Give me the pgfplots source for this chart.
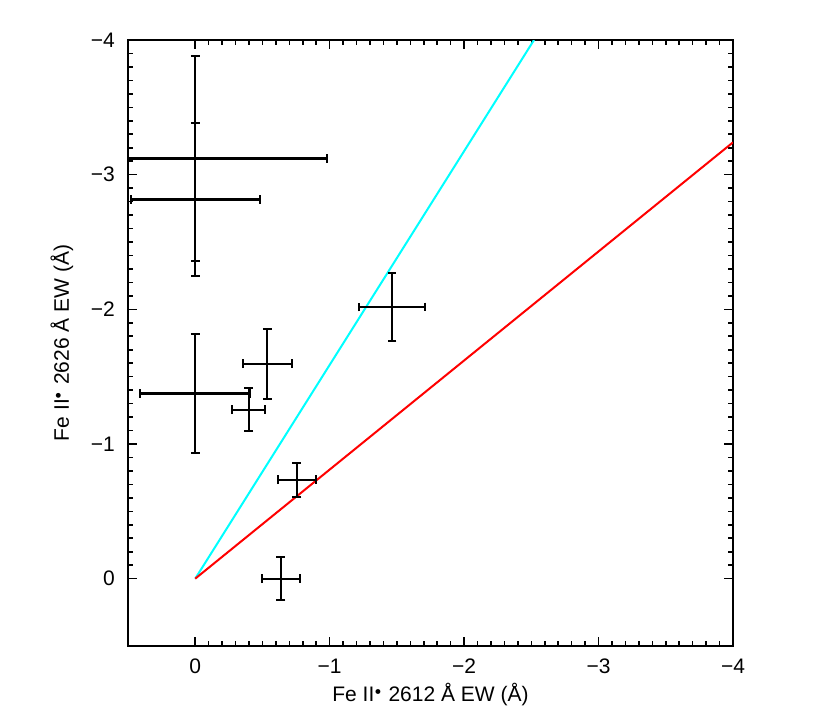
\documentclass[border=0pt]{standalone}
\usepackage{pgfplots}
\pgfplotsset{compat=1.18}
\usepackage{fontspec}
\setmainfont{Liberation Sans}
\definecolor{idlcyan}{RGB}{0,255,255}
\definecolor{idlred}{RGB}{255,0,0}
\begin{document}
\begin{tikzpicture}
\path[use as bounding box] (0,0) rectangle (415pt,363.5pt);
\begin{axis}[
  at={(64pt,40.5pt)}, anchor=south west,
  scale only axis, width=302.5pt, height=303pt,
  x dir=reverse, y dir=reverse,
  xmin=-4, xmax=0.5, ymin=-4, ymax=0.5,
  xtick={0,-1,-2,-3,-4}, ytick={0,-1,-2,-3,-4},
  xticklabels={0,−1,−2,−3,−4}, yticklabels={0,−1,−2,−3,−4},
  minor x tick num=9, minor y tick num=9,
  tick align=inside, ticks=both,
  major tick length=4.5pt, minor tick length=2.5pt,
  every tick/.style={black, line width=0.8pt},
  axis line style={line width=1pt},
  tick label style={font=\fontsize{10.5}{12}\selectfont},
  label style={font=\fontsize{10.5}{12}\selectfont},
  xlabel={Fe II$^{\scriptscriptstyle\bullet}$ 2612 Å EW (Å)},
  ylabel={Fe II$^{\scriptscriptstyle\bullet}$ 2626 Å EW (Å)},
  xticklabel style={yshift=-3pt},
  yticklabel style={xshift=-3pt},
  xlabel style={yshift=2pt},
  ylabel style={yshift=2pt},
  clip=true,
]
\addplot[idlcyan, line width=1pt] coordinates {(0,0) (-2.52,-4)};
\addplot[idlred, line width=1pt] coordinates {(0,0) (-4,-3.24)};
\addplot[black, draw=none, mark=none,
  error bars/.cd, x dir=both, x explicit, y dir=both, y explicit,
  error bar style={line width=1.1pt, black},
  error mark options={rotate=90, mark size=2.2pt, line width=1.1pt, black}]
  table[x=x, y=y, x error=ex, y error=ey] {
x y ex ey
0 -3.12 0.98 0.76
0 -2.816 0.48 0.57
0 -1.375 0.41 0.44
-0.398 -1.254 0.123 0.16
-0.536 -1.596 0.183 0.26
-1.464 -2.017 0.243 0.25
-0.756 -0.734 0.142 0.126
-0.637 0.0 0.142 0.16
};
\end{axis}
\end{tikzpicture}
\end{document}
